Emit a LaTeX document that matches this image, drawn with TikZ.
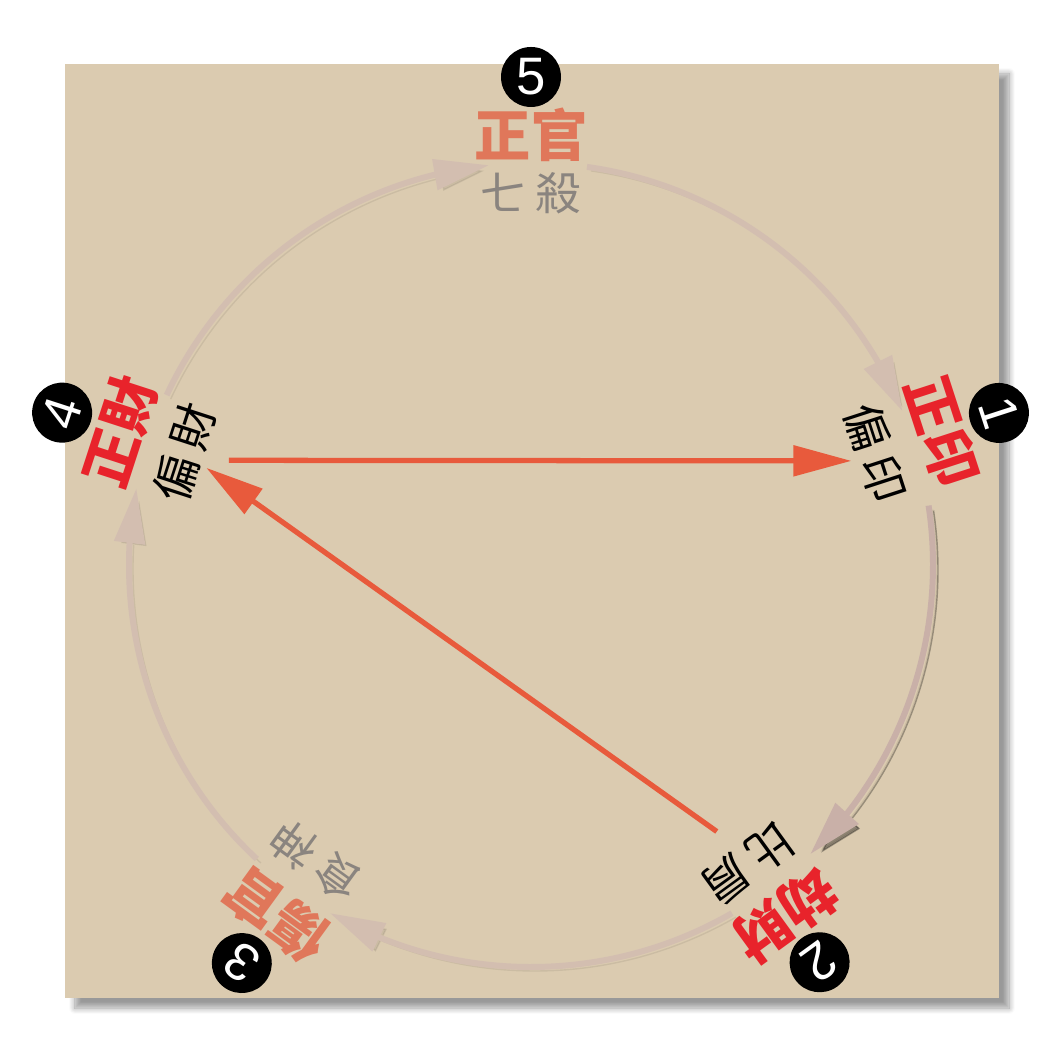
\documentclass[tikz,border=0pt]{standalone}
\usepackage{fontspec}
\newfontfamily\cjk{Noto Sans CJK TC}
\newfontfamily\numfont{Liberation Sans}
\usetikzlibrary{arrows.meta,bending,shadows.blur}
\definecolor{paper}{HTML}{DBCBB0}
\definecolor{zheng}{HTML}{E8232B}
\definecolor{guan}{HTML}{E0775A}
\definecolor{shade}{HTML}{8A847F}
\definecolor{flow}{HTML}{E85A3C}
\definecolor{ring}{HTML}{D3BEB0}
\definecolor{ringdark}{HTML}{C9B0A8}

\begin{document}
\begin{tikzpicture}[inner sep=1pt]
	\tikzstyle{every node}=[font=\cjk]
	\tikzstyle{outer}=[font=\cjk\bfseries\fontsize{16}{16}\selectfont]
	\tikzstyle{inner}=[font=\cjk\fontsize{13}{13}\selectfont]
	\tikzstyle{num}=[circle, fill=black, text=white, minimum size=6mm, inner sep=0pt, font=\numfont\fontsize{15}{15}\selectfont]
	\tikzstyle{ring}=[draw=ring, line width=1.7pt, -{Triangle[length=5.5mm,width=3mm]},
		preaction={draw=black, opacity=.07, transform canvas={xshift=.4mm, yshift=-.4mm}}]
	\tikzstyle{flow}=[draw=flow, line width=1.5pt, -{Triangle[length=5.8mm,width=3mm]}, shorten <=2mm]
		\useasboundingbox (-5.31,-4.98) rectangle (5.32,5.65);
		\fill[paper, blur shadow={shadow xshift=1mm, shadow yshift=-1mm, shadow blur steps=10}] (-4.66,-4.33) rectangle (4.68,5.01);

		\node[outer, text=guan] (zg) at (90:4.30) {正官};
		\node[inner, text=shade] (qs) at (90:3.72) {七\hspace{.2em}殺};
		\node[num] (n5) at (90:4.88) {5};

		\node[outer, text=zheng, rotate=-72] (zy) at (18:4.32) {正印};
		\node[inner, rotate=-72] (py) at (18:3.62) {偏\hspace{.2em}印};
		\node[num, rotate=-72] (n1) at (18:4.92) {1};

		\node[outer, text=zheng, rotate=-144] (jc) at (-54:4.33) {劫財};
		\node[inner, rotate=-144] (bj) at (-54:3.69) {比\hspace{.2em}肩};
		\node[num, rotate=-144] (n2) at (-54:4.91) {2};

		\node[outer, text=guan, rotate=144] (sg) at (234:4.33) {傷官};
		\node[inner, text=shade, rotate=144] (ss) at (234:3.66) {食\hspace{.2em}神};
		\node[num, rotate=144] (n3) at (234:4.92) {3};

		\node[outer, text=zheng, rotate=72] (zc) at (162:4.32) {正財};
		\node[inner, rotate=72] (pc) at (162:3.64) {偏\hspace{.2em}財};
		\node[num, rotate=72] (n4) at (162:4.93) {4};

		\coordinate (a5) at (82:4.02);
		\coordinate (a1) at (8.5:4.02);
		\coordinate (a2) at (-60:4.02);
		\coordinate (a3) at (-133:4.02);
		\coordinate (a4) at (155:4.02);

		\draw[ring] (a5) arc[start angle=82, end angle=22.5, radius=4.02];
		\draw[ring, draw=ringdark, preaction={draw=black, opacity=.3, transform canvas={xshift=.5mm, yshift=-.5mm}}] (a1) arc[start angle=8.5, end angle=-46, radius=4.02];
		\draw[ring] (a2) arc[start angle=-60, end angle=-120, radius=4.02];
		\draw[ring] (a3) arc[start angle=-133, end angle=-191, radius=4.02];
		\draw[ring] (a4) arc[start angle=155, end angle=96, radius=4.02];

		\draw[flow] (pc.south) -- (py.south);
		\draw[flow] (bj.south) -- (pc);
	\end{tikzpicture}
\end{document}
